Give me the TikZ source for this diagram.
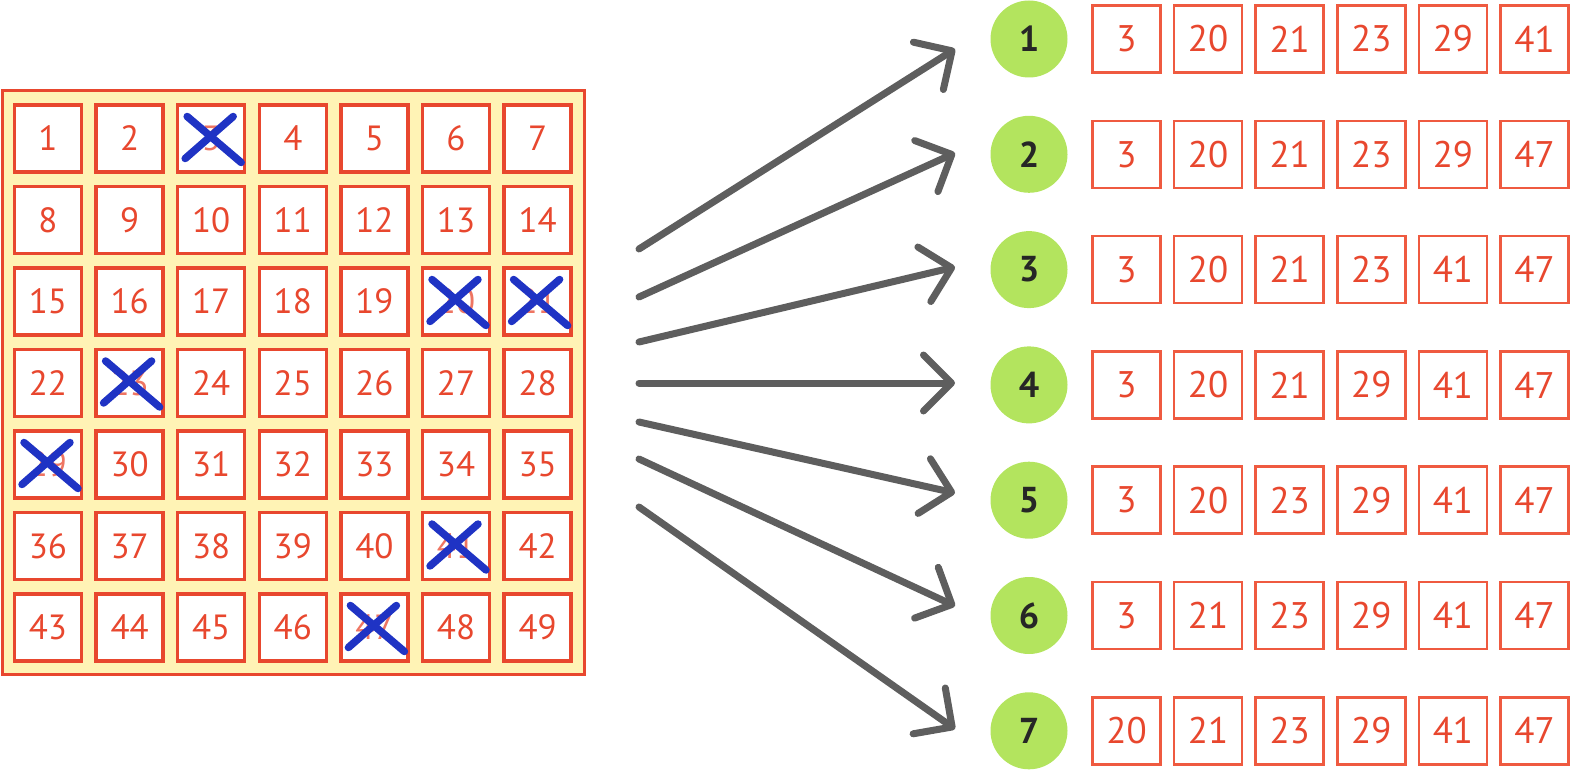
\documentclass[tikz,border=0pt]{standalone}
\usepackage{fontspec}
\setmainfont{PT Sans}
\usetikzlibrary{arrows.meta}
\definecolor{cellred}{HTML}{E8472E}
\definecolor{boxred}{HTML}{EF5A40}
\definecolor{panelyellow}{HTML}{FFF3B5}
\definecolor{xblue}{HTML}{1F33C4}
\definecolor{arrowgray}{HTML}{5E5E5E}
\definecolor{ballgreen}{HTML}{B3E45E}
\begin{document}
\begin{tikzpicture}[x=1pt,y=-1pt,
  cell/.style={draw=cellred, line width=3.5pt, fill=white, minimum width=67pt, minimum height=67pt, inner sep=0pt, text=cellred, font=\fontsize{35}{35}\selectfont},
  faded/.style={text=cellred!75},
  numbox/.style={draw=boxred, line width=2.5pt, fill=white, minimum width=68pt, minimum height=67pt, inner sep=0pt, text=cellred, font=\fontsize{37}{37}\selectfont},
  ball/.style={circle, fill=ballgreen, minimum size=77pt, inner sep=0pt, text=black!85, font=\bfseries\fontsize{36}{36}\selectfont},
  xmark/.style={draw=xblue, line width=7.5pt, line cap=round},
  fan/.style={draw=arrowgray, line width=7pt, line cap=round, -{Straight Barb[length=28pt,width=56pt,line cap=round,line join=round]}}
]
\useasboundingbox (0,0) rectangle (1572,770);
% panel
\node[draw=cellred, line width=3pt, fill=panelyellow, minimum width=582pt, minimum height=583pt, inner sep=0pt] (panel) at (293,382.5) {};
% cells
\foreach \j in {0,...,6}{
  \foreach \i in {0,...,6}{
    \pgfmathtruncatemacro{\n}{7*\j+\i+1}
    \node[cell] (c\n) at ({48+81.6*\i},{138.5+81.5*\j}) {\n};
  }
}
% faded crossed numbers
\foreach \n in {3,20,21,23,29,41,47}{
  \node[cell,faded] at (c\n) {\n};
  \draw[xmark] ([shift={(-26,20)}]c\n.center) -- ([shift={(22,-22)}]c\n.center);
  \draw[xmark] ([shift={(-24,-22)}]c\n.center) -- ([shift={(30,24)}]c\n.center);
}
% balls and rows
\foreach \k/\a/\b/\c/\d/\e/\f in {1/3/20/21/23/29/41, 2/3/20/21/23/29/47, 3/3/20/21/23/41/47, 4/3/20/21/29/41/47, 5/3/20/23/29/41/47, 6/3/21/23/29/41/47, 7/20/21/23/29/41/47}{
  \pgfmathsetmacro{\yy}{39+115.3*(\k-1)}
  \node[ball] (b\k) at (1029,\yy) {\k};
  \node[numbox] (r\k a) at (1126.5,\yy) {\a};
  \node[numbox] (r\k b) at (1208.1,\yy) {\b};
  \node[numbox] (r\k c) at (1289.7,\yy) {\c};
  \node[numbox] (r\k d) at (1371.3,\yy) {\d};
  \node[numbox] (r\k e) at (1452.9,\yy) {\e};
  \node[numbox] (r\k f) at (1534.5,\yy) {\f};
}
% arrows
\coordinate (s1) at (639,249); \coordinate (e1) at (955,49);
\coordinate (s2) at (639,297); \coordinate (e2) at (955,153);
\coordinate (s3) at (639,342); \coordinate (e3) at (955,267);
\coordinate (s4) at (639,383); \coordinate (e4) at (955,383);
\coordinate (s5) at (639,422); \coordinate (e5) at (955,493);
\coordinate (s6) at (639,459); \coordinate (e6) at (955,606);
\coordinate (s7) at (639,507); \coordinate (e7) at (955,729);
\foreach \k in {1,...,7}{
  \draw[fan] (s\k) -- (e\k);
}
\end{tikzpicture}
\end{document}
